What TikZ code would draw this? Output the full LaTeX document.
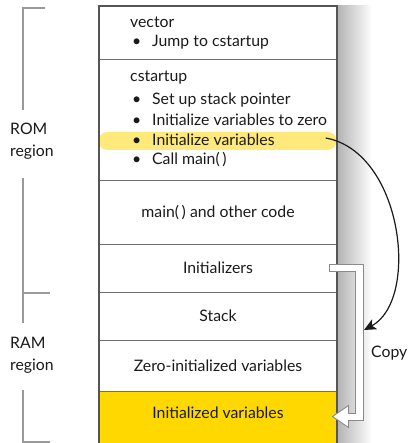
\documentclass[tikz,border=0pt]{standalone}
\usepackage{fontspec}
\setmainfont{Lato}
\usepackage{xcolor}
\usepackage{tikz}
\usetikzlibrary{calc,arrows.meta,positioning}
\definecolor{ink}{HTML}{1A1A1A}
\definecolor{colline}{HTML}{555555}
\definecolor{rowline}{HTML}{6E6E6E}
\definecolor{brk}{HTML}{9A9A9A}
\definecolor{gold}{HTML}{FFD800}
\definecolor{hlyel}{HTML}{FFE97A}
\definecolor{cpyline}{HTML}{8A8A8A}
\newcommand{\itm}{\makebox[22pt][l]{\hspace{2pt}\textbullet}}
\tikzset{
  row/.style={draw=rowline, line width=1pt, minimum width=238pt, inner sep=0pt, text=ink, font=\fontsize{15.8}{22}\selectfont},
  lab/.style={text=ink, inner sep=0pt, font=\fontsize{15.8}{22}\selectfont},
  labl/.style={lab, anchor=west},
  side/.style={draw=colline, line width=1.2pt},
  brace/.style={draw=brk, line width=2.2pt},
  hilite/.style={fill=hlyel, rounded corners=9pt, minimum width=238pt, minimum height=18pt, inner sep=0pt},
  cpyarrow/.style={draw=cpyline, fill=white, line width=0.9pt, line join=miter},
}

\begin{document}
\begin{tikzpicture}[x=1pt, y=-1pt]
\useasboundingbox (0,0) rectangle (408,443);

% shadow right of the memory column
\shade[left color=black!30, right color=white] (337,6) rectangle (372,443);

% rows
\node[row, minimum height=54pt] (vect) at (218,33) {};
\node[row, minimum height=121pt] (cstart) at (218,120.5) {};
\node[hilite] (hl) at (217.5,141) {};
\node[row, minimum height=63pt] (maincode) at (218,212.5) {main(\,) and other code};
\node[row, minimum height=48pt] (inits) at (218,268) {Initializers};
\node[row, minimum height=48pt] (stack) at (218,316) {Stack};
\node[row, minimum height=51pt] (zerovars) at (218,365.5) {Zero-initialized variables};
\node[row, fill=gold, minimum height=52pt] (initvars) at (218,417) {};
\node[lab] (initvarstxt) at (218,413) {Initialized variables};
\draw[side] (99,443) -- (99,6) -- (337,6) -- (337,443);

% vector and cstartup text
\node[labl] (vecttl) at (130,22) {vector};
\node[labl] (vecjmp) at (130,42) {\itm Jump to cstartup};
\node[labl] (csttl) at (130,78) {cstartup};
\node[labl] (csa) at (130,100) {\itm Set up stack pointer};
\node[labl] (csb) at (130,120) {\itm Initialize variables to zero};
\node[labl] (csc) at (130,140) {\itm Initialize variables};
\node[labl] (csd) at (130,160) {\itm Call main(\,)};

% region brackets
\draw[brace] (45,8) -- (23,8) -- (23,110);
\draw[brace] (23,178) -- (23,323);
\draw[brace] (23,293) -- (50,293);
\draw[brace] (23,390) -- (23,442) -- (50,442);
\node[labl, align=left] (rom) at (10,141) {ROM\\region};
\node[labl, align=left] (ram) at (10,355) {RAM\\region};

% copy arrows
\node[labl] (copy) at (371,353) {Copy};
\coordinate (cpyend) at (364,330);
\draw[ink, line width=1.2pt, -{Stealth[length=12pt, width=11pt, inset=3pt]}]
  ($(hl.east)+(-11,-3)$) .. controls (403,152) and (420,300) .. (cpyend);
\draw[cpyarrow]
  ($(inits.east)+(-8,-3.5)$) -- ($(inits.east)+(26,-3.5)$)
  -- ($(initvars.east)+(26,3.5)$) -- ($(initvars.east)+(11,3.5)$)
  -- ($(initvars.east)+(11,10.5)$) -- ($(initvars.east)+(-5,-0.5)$)
  -- ($(initvars.east)+(11,-11.5)$) -- ($(initvars.east)+(11,-3.5)$)
  -- ($(initvars.east)+(18,-3.5)$) -- ($(inits.east)+(18,3.5)$)
  -- ($(inits.east)+(-8,3.5)$) -- cycle;
\end{tikzpicture}
\end{document}
